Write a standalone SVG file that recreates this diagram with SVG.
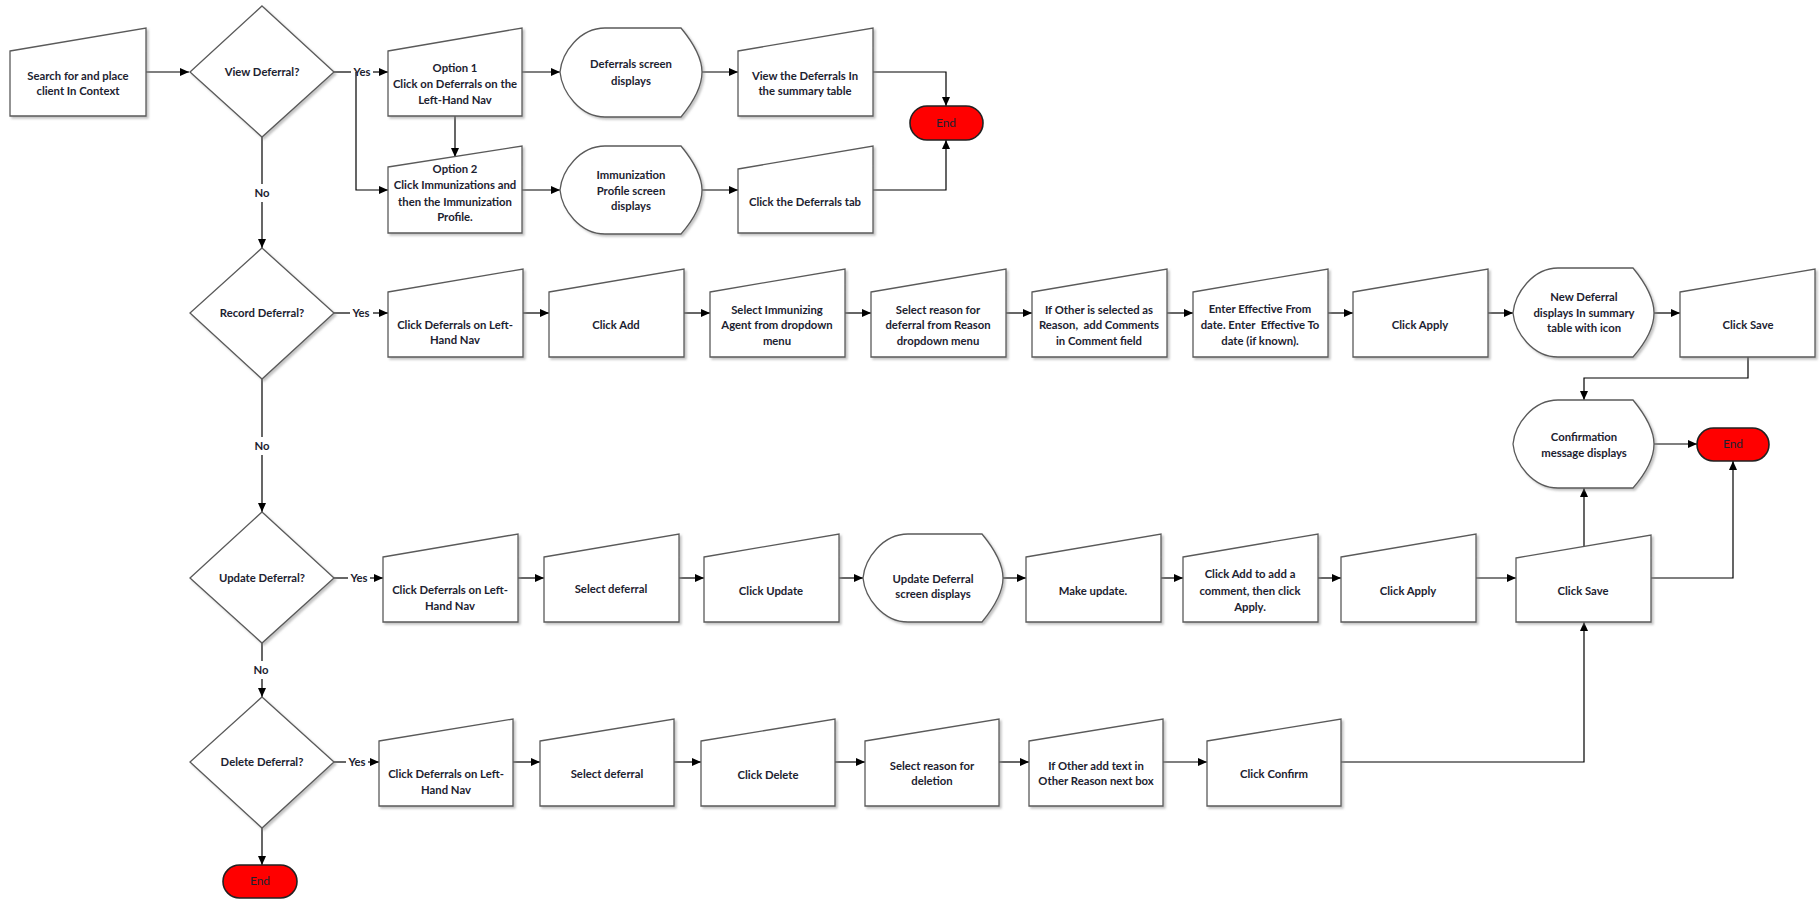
<svg xmlns="http://www.w3.org/2000/svg" width="1820" height="901" viewBox="0 0 1820 901">
<defs>
<marker id="ah" markerWidth="10" markerHeight="10" refX="9" refY="5" orient="auto" markerUnits="userSpaceOnUse">
<path d="M0,1 L9,5 L0,9 Z" fill="#000"/>
</marker>
<filter id="sh" x="-5%" y="-5%" width="115%" height="120%">
<feDropShadow dx="2" dy="2" stdDeviation="1" flood-color="#888" flood-opacity="0.5"/>
</filter>
</defs>
<style>
.s{fill:#fff;stroke:#5a5a5a;stroke-width:1.3;filter:url(#sh)}
.end{fill:#ff0000;stroke:#222;stroke-width:1.6}
.t{font-family:Lato,"Liberation Sans",sans-serif;font-size:11.3px;font-weight:700;fill:#1c2230;text-anchor:middle}
.te{font-family:Lato,"Liberation Sans",sans-serif;font-size:12px;fill:#1c2230;text-anchor:middle}
.c{fill:none;stroke:#000;stroke-width:1.2}
.ca{fill:none;stroke:#000;stroke-width:1.2;marker-end:url(#ah)}
</style>
<rect width="1820" height="901" fill="#fff"/>

<g id="connectors">
<path class="ca" d="M146,72 H189"/>
<path class="c" d="M334,72 H351"/>
<path class="ca" d="M373,72 H388"/>
<path class="ca" d="M356,72 V190 H388"/>
<path class="ca" d="M455,116 V157"/>
<path class="ca" d="M522,72 H560"/>
<path class="ca" d="M522,190 H560"/>
<path class="ca" d="M702,72 H738"/>
<path class="ca" d="M702,190 H738"/>
<path class="ca" d="M873,72 H946 V106"/>
<path class="ca" d="M873,190 H946 V140"/>
<path class="c" d="M262,137 V184"/>
<path class="ca" d="M262,202 V248"/>

<path class="c" d="M334,313 H350"/>
<path class="ca" d="M373,313 H388"/>
<path class="ca" d="M523,313 H549"/>
<path class="ca" d="M684,313 H710"/>
<path class="ca" d="M845,313 H871"/>
<path class="ca" d="M1006,313 H1032"/>
<path class="ca" d="M1167,313 H1193"/>
<path class="ca" d="M1328,313 H1353"/>
<path class="ca" d="M1488,313 H1513"/>
<path class="ca" d="M1654,313 H1680"/>
<path class="ca" d="M1748,357 V378 H1584 V400"/>
<path class="ca" d="M1654,444 H1697"/>
<path class="c" d="M262,379 V437"/>
<path class="ca" d="M262,455 V512"/>

<path class="c" d="M334,578 H348"/>
<path class="ca" d="M370,578 H383"/>
<path class="ca" d="M518,578 H544"/>
<path class="ca" d="M679,578 H704"/>
<path class="ca" d="M839,578 H863"/>
<path class="ca" d="M1003,578 H1026"/>
<path class="ca" d="M1161,578 H1183"/>
<path class="ca" d="M1318,578 H1341"/>
<path class="ca" d="M1476,578 H1516"/>
<path class="ca" d="M1584,546 V488"/>
<path class="ca" d="M1651,578 H1733 V461"/>
<path class="c" d="M262,643 V661"/>
<path class="ca" d="M262,679 V697"/>

<path class="c" d="M334,762 H346"/>
<path class="ca" d="M368,762 H379"/>
<path class="ca" d="M513,762 H540"/>
<path class="ca" d="M674,762 H701"/>
<path class="ca" d="M835,762 H865"/>
<path class="ca" d="M999,762 H1029"/>
<path class="ca" d="M1163,762 H1207"/>
<path class="ca" d="M1341,762 H1584 V622"/>
<path class="ca" d="M262,828 V865"/>

<text class="t" x="362" y="76">Yes</text>
<text class="t" x="262" y="197">No</text>
<text class="t" x="361" y="317">Yes</text>
<text class="t" x="262" y="450">No</text>
<text class="t" x="359" y="582">Yes</text>
<text class="t" x="261" y="674">No</text>
<text class="t" x="357" y="766">Yes</text>
</g>

<g id="n_start"><polygon class="s" points="10,51 146,28 146,116 10,116"/>
<text class="t" x="78" y="80">Search for and place</text><text class="t" x="78" y="95">client In Context</text></g>

<g id="d_view"><polygon class="s" points="262,6 334,72 262,137 190,72"/>
<text class="t" x="262" y="76">View Deferral?</text></g>

<g id="n_opt1"><polygon class="s" points="388,51 522,28 522,116 388,116"/>
<text class="t" x="455" y="72">Option 1</text><text class="t" x="455" y="88">Click on Deferrals on the</text><text class="t" x="455" y="104">Left-Hand Nav</text></g>

<g id="n_opt2"><polygon class="s" points="388,167 522,146 522,233 388,233"/>
<text class="t" x="455" y="173">Option 2</text><text class="t" x="455" y="189">Click Immunizations and</text><text class="t" x="455" y="206">then the Immunization</text><text class="t" x="455" y="221">Profile.</text></g>

<g id="n_defscreen"><path class="s" d="M605,28 H681 C695,45 702,60 702,72 C702,84 695,100 681,117 H605 C580,117 562,92 560,72 C562,52 580,28 605,28 Z"/>
<text class="t" x="631" y="68">Deferrals screen</text><text class="t" x="631" y="85">displays</text></g>

<g id="n_immscreen"><path class="s" d="M605,146 H681 C695,163 702,178 702,190 C702,202 695,218 681,234 H605 C580,234 562,210 560,190 C562,170 580,146 605,146 Z"/>
<text class="t" x="631" y="179">Immunization</text><text class="t" x="631" y="195">Profile screen</text><text class="t" x="631" y="210">displays</text></g>

<g id="n_viewdef"><polygon class="s" points="738,51 873,28 873,116 738,116"/>
<text class="t" x="805" y="80">View the Deferrals In</text><text class="t" x="805" y="95">the summary table</text></g>

<g id="n_tab"><polygon class="s" points="738,169 873,146 873,233 738,233"/>
<text class="t" x="805" y="206">Click the Deferrals tab</text></g>

<g id="end1"><rect class="end" x="910" y="106" width="73" height="34" rx="17"/>
<text class="te" x="946" y="127">End</text></g>

<g id="d_record"><polygon class="s" points="262,248 334,313 262,379 190,313"/>
<text class="t" x="262" y="317">Record Deferral?</text></g>

<g id="n_r1"><polygon class="s" points="388,292 523,269 523,357 388,357"/>
<text class="t" x="455" y="329">Click Deferrals on Left-</text><text class="t" x="455" y="344">Hand Nav</text></g>
<g id="n_r2"><polygon class="s" points="549,292 684,269 684,357 549,357"/>
<text class="t" x="616" y="329">Click Add</text></g>
<g id="n_r3"><polygon class="s" points="710,292 845,269 845,357 710,357"/>
<text class="t" x="777" y="314">Select Immunizing</text><text class="t" x="777" y="329">Agent from dropdown</text><text class="t" x="777" y="345">menu</text></g>
<g id="n_r4"><polygon class="s" points="871,292 1006,269 1006,357 871,357"/>
<text class="t" x="938" y="314">Select reason for</text><text class="t" x="938" y="329">deferral from Reason</text><text class="t" x="938" y="345">dropdown menu</text></g>
<g id="n_r5"><polygon class="s" points="1032,292 1167,269 1167,357 1032,357"/>
<text class="t" x="1099" y="314">If Other is selected as</text><text class="t" x="1099" y="329" xml:space="preserve">Reason,  add Comments</text><text class="t" x="1099" y="345">in Comment field</text></g>
<g id="n_r6"><polygon class="s" points="1193,292 1328,269 1328,357 1193,357"/>
<text class="t" x="1260" y="313">Enter Effective From</text><text class="t" x="1260" y="329" xml:space="preserve">date. Enter  Effective To</text><text class="t" x="1260" y="345">date (if known).</text></g>
<g id="n_r7"><polygon class="s" points="1353,292 1488,269 1488,357 1353,357"/>
<text class="t" x="1420" y="329">Click Apply</text></g>
<g id="n_r8"><path class="s" d="M1558,268 H1633 C1647,285 1654,301 1654,313 C1654,325 1647,341 1633,357 H1558 C1533,357 1515,333 1513,313 C1515,293 1533,268 1558,268 Z"/>
<text class="t" x="1584" y="301">New Deferral</text><text class="t" x="1584" y="317">displays In summary</text><text class="t" x="1584" y="332">table with icon</text></g>
<g id="n_r9"><polygon class="s" points="1680,292 1815,269 1815,357 1680,357"/>
<text class="t" x="1748" y="329">Click Save</text></g>

<g id="n_confirm"><path class="s" d="M1558,400 H1633 C1647,417 1654,432 1654,444 C1654,456 1647,472 1633,488 H1558 C1533,488 1515,464 1513,444 C1515,424 1533,400 1558,400 Z"/>
<text class="t" x="1584" y="441">Confirmation</text><text class="t" x="1584" y="457">message displays</text></g>
<g id="end2"><rect class="end" x="1697" y="428" width="72" height="33" rx="16.5"/>
<text class="te" x="1733" y="448">End</text></g>

<g id="d_update"><polygon class="s" points="262,512 334,578 262,643 190,578"/>
<text class="t" x="262" y="582">Update Deferral?</text></g>

<g id="n_u1"><polygon class="s" points="383,557 518,534 518,622 383,622"/>
<text class="t" x="450" y="594">Click Deferrals on Left-</text><text class="t" x="450" y="610">Hand Nav</text></g>
<g id="n_u2"><polygon class="s" points="544,557 679,534 679,622 544,622"/>
<text class="t" x="611" y="593">Select deferral</text></g>
<g id="n_u3"><polygon class="s" points="704,557 839,534 839,622 704,622"/>
<text class="t" x="771" y="595">Click Update</text></g>
<g id="n_u4"><path class="s" d="M908,534 H982 C996,551 1003,566 1003,578 C1003,590 996,605 982,622 H908 C883,622 865,598 863,578 C865,558 883,534 908,534 Z"/>
<text class="t" x="933" y="583">Update Deferral</text><text class="t" x="933" y="598">screen displays</text></g>
<g id="n_u5"><polygon class="s" points="1026,557 1161,534 1161,622 1026,622"/>
<text class="t" x="1093" y="595">Make update.</text></g>
<g id="n_u6"><polygon class="s" points="1183,557 1318,534 1318,622 1183,622"/>
<text class="t" x="1250" y="578">Click Add to add a</text><text class="t" x="1250" y="595">comment, then click</text><text class="t" x="1250" y="611">Apply.</text></g>
<g id="n_u7"><polygon class="s" points="1341,557 1476,534 1476,622 1341,622"/>
<text class="t" x="1408" y="595">Click Apply</text></g>
<g id="n_u8"><polygon class="s" points="1516,558 1651,535 1651,622 1516,622"/>
<text class="t" x="1583" y="595">Click Save</text></g>

<g id="d_delete"><polygon class="s" points="262,697 334,762 262,828 190,762"/>
<text class="t" x="262" y="766">Delete Deferral?</text></g>

<g id="n_d1"><polygon class="s" points="379,741 513,719 513,806 379,806"/>
<text class="t" x="446" y="778">Click Deferrals on Left-</text><text class="t" x="446" y="794">Hand Nav</text></g>
<g id="n_d2"><polygon class="s" points="540,741 674,719 674,806 540,806"/>
<text class="t" x="607" y="778">Select deferral</text></g>
<g id="n_d3"><polygon class="s" points="701,741 835,719 835,806 701,806"/>
<text class="t" x="768" y="779">Click Delete</text></g>
<g id="n_d4"><polygon class="s" points="865,741 999,719 999,806 865,806"/>
<text class="t" x="932" y="770">Select reason for</text><text class="t" x="932" y="785">deletion</text></g>
<g id="n_d5"><polygon class="s" points="1029,741 1163,719 1163,806 1029,806"/>
<text class="t" x="1096" y="770">If Other add text in</text><text class="t" x="1096" y="785">Other Reason next box</text></g>
<g id="n_d6"><polygon class="s" points="1207,741 1341,719 1341,806 1207,806"/>
<text class="t" x="1274" y="778">Click Confirm</text></g>

<g id="end3"><rect class="end" x="223" y="865" width="74" height="33" rx="16.5"/>
<text class="te" x="260" y="885">End</text></g>
</svg>
